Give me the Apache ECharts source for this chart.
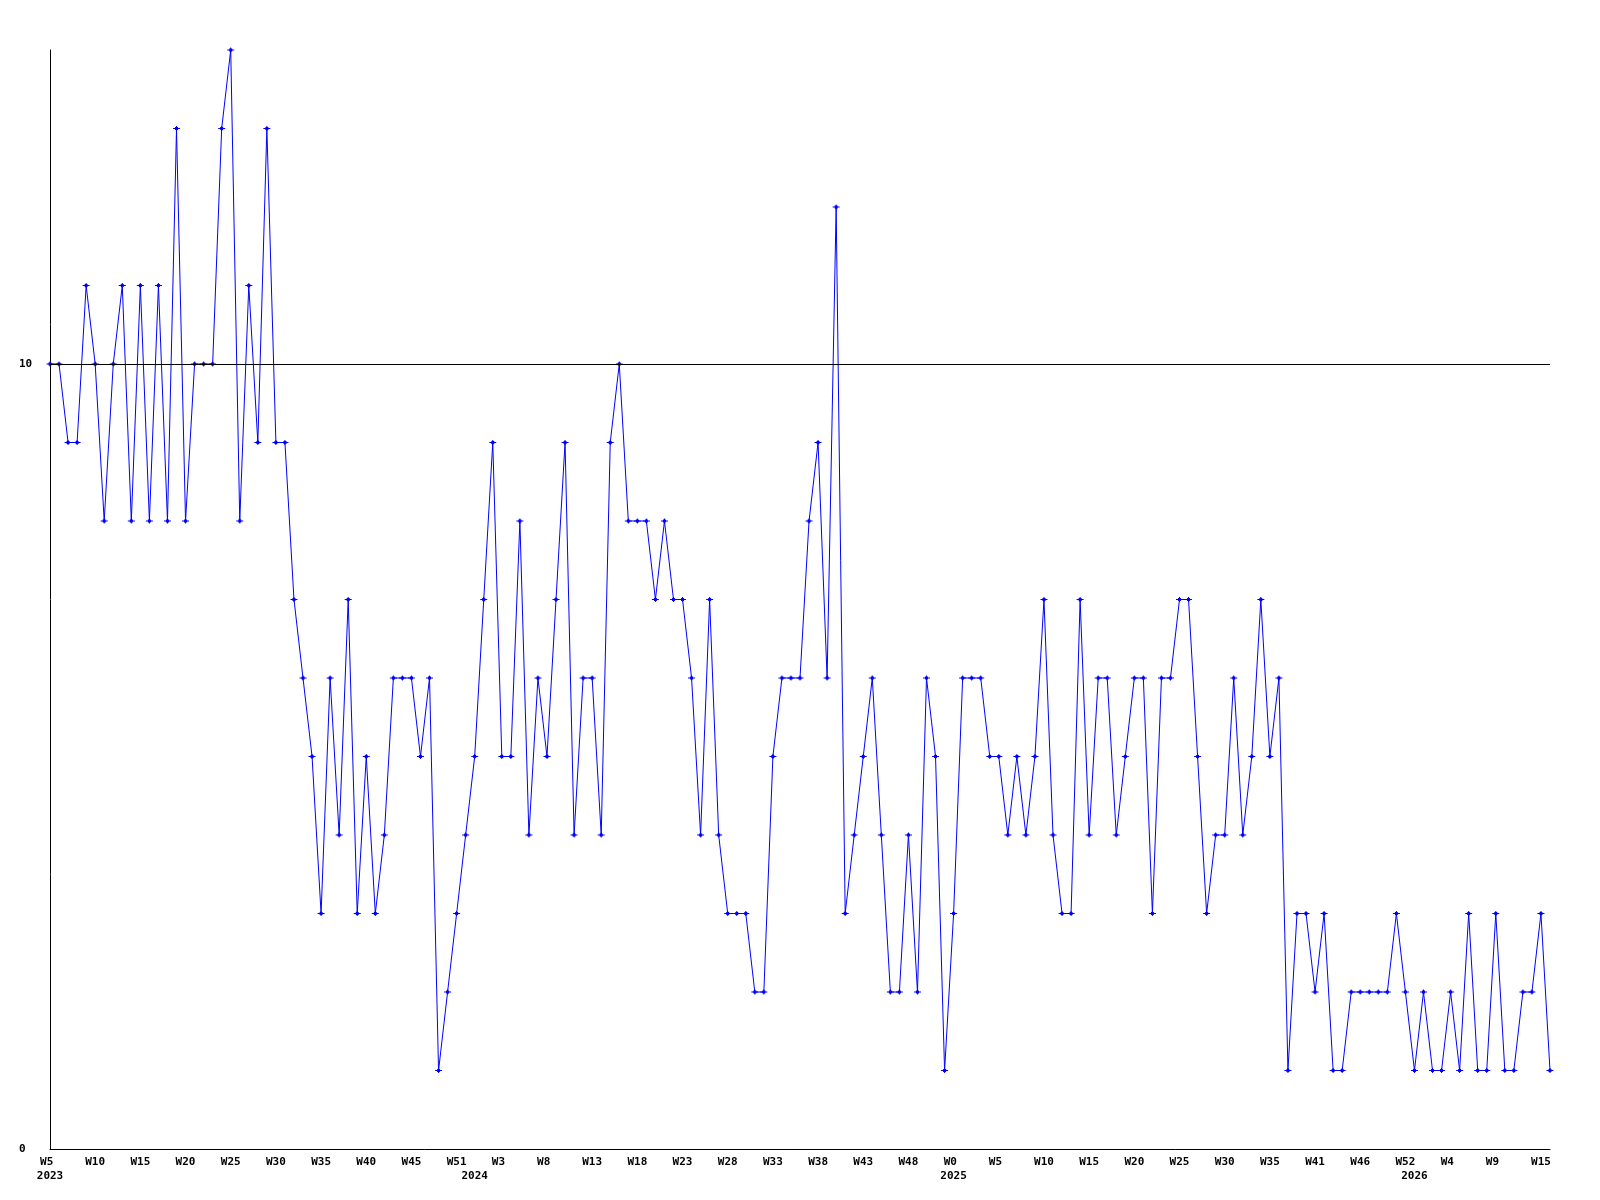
<!DOCTYPE html>
<html>
<head>
<meta charset="utf-8">
<script src="https://cdn.jsdelivr.net/npm/echarts@6/dist/echarts.min.js"></script>
<style>
  html, body { margin: 0; padding: 0; background: #fff; }
  #chart { width: 1600px; height: 1200px; }
</style>
</head>
<body>
<div id="chart"></div>
<script>
// weekly values, W5 2023 .. W16 2026
const values = [
  10, 10, 9, 9, 11, 10, 8, 10, 11, 8, 11, 8, 11, 8, 13, 8, 10, 10, 10, 13, 14, 8, 11, 9, 13, 9,
  9, 7, 6, 5, 3, 6, 4, 7, 3, 5,
  3, 4, 6, 6, 6, 5, 6, 1, 2, 3,
  4, 5, 7, 9, 5, 5, 8, 4, 6, 5,
  7, 9, 4, 6, 6, 4, 9, 10, 8, 8,
  8, 7, 8, 7, 7, 6, 4, 7, 4, 3,
  3, 3, 2, 2, 5, 6, 6, 6, 8, 9,
  6, 12, 3, 4, 5, 6, 4, 2, 2, 4,
  2, 6, 5, 1, 3, 6, 6, 6, 5, 5,
  4, 5, 4, 5, 7, 4, 3, 3, 7, 4,
  6, 6, 4, 5, 6, 6, 3, 6, 6, 7,
  7, 5, 3, 4, 4, 6, 4, 5, 7, 5,
  6, 1, 3, 3, 2, 3, 1, 1, 2, 2,
  2, 2, 2, 3, 2, 1, 2, 1, 1, 2,
  1, 3, 1, 1, 3, 1, 1, 2, 2, 3,
  1
];

// one label every 5th week
const weekLabels = ['W5', 'W10', 'W15', 'W20', 'W25', 'W30', 'W35', 'W40', 'W45', 'W51',
  'W3', 'W8', 'W13', 'W18', 'W23', 'W28', 'W33', 'W38', 'W43', 'W48',
  'W0', 'W5', 'W10', 'W15', 'W20', 'W25', 'W30', 'W35', 'W41', 'W46',
  'W52', 'W4', 'W9', 'W15'];

const yearLabels = ['2023', '2024', '2025', '2026'];
const yearIndex = [0, 47, 100, 151];

const yTicks = [0, 10];

const categories = values.map((v, i) => String(i));

const font = {
  fontFamily: 'DejaVu Sans Mono',
  fontWeight: 'bold',
  fontSize: 11,
  color: '#000'
};

const chart = echarts.init(document.getElementById('chart'), null, { renderer: 'canvas' });

chart.setOption({
  animation: false,
  backgroundColor: '#fff',
  grid: { left: 50, right: 50, top: 50, bottom: 51, containLabel: false },
  xAxis: [
    {
      type: 'category',
      data: categories,
      boundaryGap: false,
      axisLine: { show: true, lineStyle: { color: '#000', width: 1 } },
      axisTick: { show: false },
      splitLine: { show: false },
      axisLabel: {
        ...font,
        margin: 8,
        interval: (i) => i % 5 === 0,
        formatter: (v, i) => {
          const s = weekLabels[i / 5] || '';
          return s.length < 3 ? s + ' ' : s;
        }
      }
    },
    {
      type: 'category',
      data: categories,
      boundaryGap: false,
      position: 'bottom',
      offset: 14,
      axisLine: { show: false },
      axisTick: { show: false },
      splitLine: { show: false },
      axisLabel: {
        ...font,
        margin: 8,
        interval: (i) => yearIndex.includes(i),
        formatter: (v, i) => {
          const k = yearIndex.indexOf(i);
          return k >= 0 ? yearLabels[k] : '';
        }
      }
    }
  ],
  yAxis: {
    type: 'value',
    min: 0,
    max: 14,
    interval: 10,
    axisLine: { show: true, lineStyle: { color: '#000', width: 1 } },
    axisTick: { show: false },
    splitLine: { show: false },
    axisLabel: {
      ...font,
      align: 'left',
      margin: 31,
      formatter: (v) => (yTicks.includes(v) ? String(v) : '')
    }
  },
  series: [
    {
      type: 'line',
      data: values,
      xAxisIndex: 0,
      symbol: 'path://M0,3H7V4H0Z M3,1H4V6H3Z M2,2H5V5H2Z',
      symbolSize: [7, 5],
      showSymbol: true,
      showAllSymbol: true,
      lineStyle: { color: '#0000ff', width: 1 },
      itemStyle: { color: '#0000ff', borderWidth: 0 },
      emphasis: { disabled: true },
      markLine: {
        silent: true,
        symbol: 'none',
        label: { show: false },
        lineStyle: { color: '#000', width: 1, type: 'solid' },
        data: [{ yAxis: 10 }]
      }
    }
  ]
});
</script>
</body>
</html>
